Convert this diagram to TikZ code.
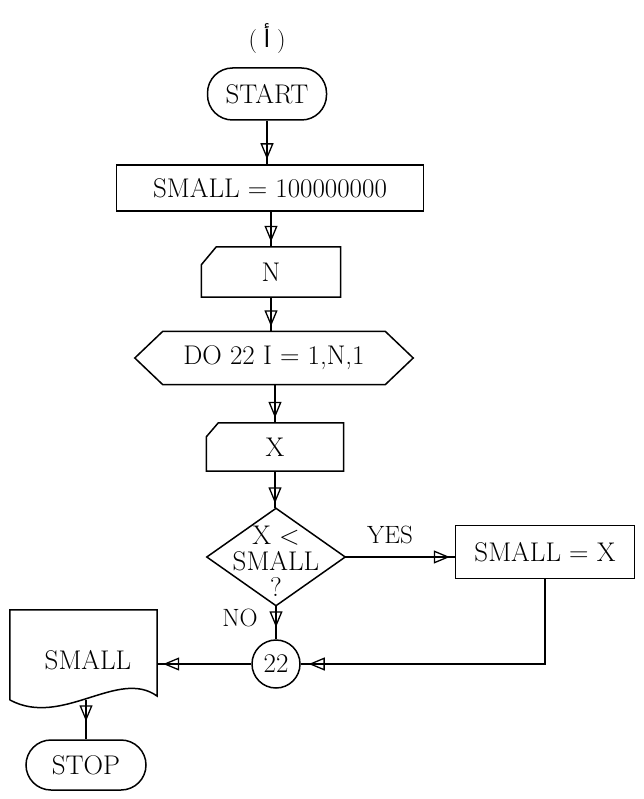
\documentclass[tikz,border=0pt]{standalone}
\usepackage{fontspec}
\newfontfamily\arabicfont[Script=Arabic]{DejaVu Sans}
\usetikzlibrary{arrows.meta,decorations.markings}

\begin{document}
\begin{tikzpicture}[x=1pt,y=-1pt,
  every node/.style={font=\fontsize{27}{26}\selectfont, inner sep=0pt},
  outline/.style={line width=1.5pt, line join=miter},
  term/.style={draw, outline, rectangle, rounded corners=25pt},
  proc/.style={draw, outline, rectangle},
  frame/.style={rectangle},
  flow/.style={line width=1.5pt, postaction={decorate},
    decoration={markings, mark=at position #1 with
      {\arrow{Triangle[open, length=16pt, width=13pt, line width=1.3pt]}}}},
  flow/.default=-5pt,
  lbl/.style={font=\fontsize{25}{26}\selectfont}]
\useasboundingbox (0,0) rectangle (644,799);

% heading
\node (head) at (267,39) {\fontsize{24}{26}\selectfont(\;{\arabicfont أ}\;)};

% terminals and process boxes
\node[term, minimum width=119pt, minimum height=52pt] (start) at (267,94) {START};
\node[proc, minimum width=307pt, minimum height=46pt] (init) at (270,188) {SMALL = 100000000};

% read N (manual input)
\node[frame, minimum width=139pt, minimum height=50pt] (readn) at (271,272) {N};
\draw[outline] ([xshift=15pt]readn.north west) -- (readn.north east) -- (readn.south east)
  -- (readn.south west) -- ([yshift=-18pt]readn.north west) -- cycle;

% loop header (hexagon)
\node[frame, minimum width=278pt, minimum height=53pt] (loop) at (274,358) {DO 22 I = 1,N,1};
\draw[outline] ([xshift=28pt]loop.north west) -- ([xshift=-28pt]loop.north east) -- (loop.east)
  -- ([xshift=-28pt]loop.south east) -- ([xshift=28pt]loop.south west) -- (loop.west) -- cycle;

% read X (manual input)
\node[frame, minimum width=137pt, minimum height=48pt] (readx) at (275,447) {X};
\draw[outline] ([xshift=12pt]readx.north west) -- (readx.north east) -- (readx.south east)
  -- (readx.south west) -- ([yshift=-14pt]readx.north west) -- cycle;

% decision
\node[frame, minimum width=138pt, minimum height=97pt, align=center] (dec) at (276,561)
  {X <\\SMALL\\?};
\draw[outline] ([yshift=4pt]dec.north) -- ([yshift=4pt]dec.east) -- ([yshift=4pt]dec.south)
  -- ([yshift=4pt]dec.west) -- cycle;

% update
\node[proc, minimum width=179pt, minimum height=53pt] (upd) at (545,552) {SMALL = X};

% connector 22
\node[draw, outline, circle, minimum size=48pt] (c22) at (276,664) {22};

% output document
\node[frame, minimum width=147pt, minimum height=90pt] (out) at (83.5,655) {};
\node (outtxt) at (88,660) {SMALL};
\draw[outline] (out.north west) -- (out.north east) -- (157,696)
  .. controls (118,668) and (62,728) .. (10,700) -- cycle;
\coordinate (outb) at (86,700);

\node[term, minimum width=120pt, minimum height=50pt] (stop) at (86,765) {STOP};

% connectors
\draw[flow] (start.south) -- (start.south |- init.north);
\draw[flow] (readn.north |- init.south) -- (readn.north);
\draw[flow] (readn.south) -- (readn.south |- loop.north);
\draw[flow] (readx.north |- loop.south) -- (readx.north);
\draw[flow] (readx.south) -- ([yshift=4pt]readx.south |- dec.north);
\draw[flow] ([yshift=4pt]dec.east) -- ([yshift=4pt]dec.east -| upd.west);
\draw[flow=-12pt] ([yshift=4pt]dec.south) -- (c22.north);
\draw[flow=-8pt] (upd.south) |- (c22.east);
\draw[flow=-6pt] (c22.west) -- (c22.west -| out.east);
\draw[flow=-18pt] (outb) -- (stop.north);

% branch labels
\node[lbl] (yes) at (390,535) {YES};
\node[lbl] (no) at (240,618) {NO};
\end{tikzpicture}
\end{document}
